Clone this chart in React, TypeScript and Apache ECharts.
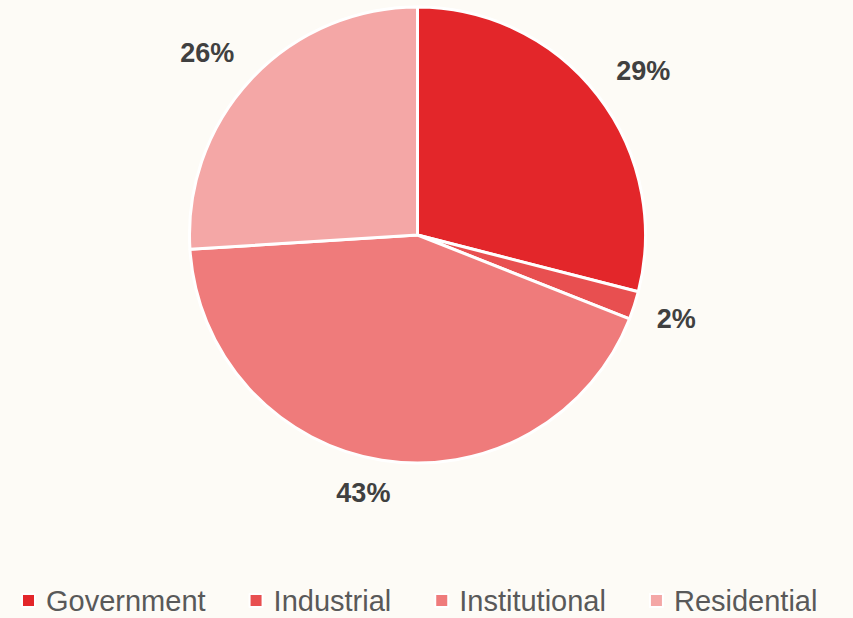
import React, { useEffect, useRef } from "react";
import * as echarts from "echarts";

const categories = ["Government", "Industrial", "Institutional", "Residential"];
const values = [29, 2, 43, 26];
const colors = ["#e3262a", "#e84f50", "#ef7b7b", "#f4a7a6"];
const legendTextWidths = [162, 121, 154, 140];

const CX = 417.5;
const CY = 235;
const R = 228;
const LABEL_GAP = 23.5;

const clamp = (v: number) => Math.max(-1, Math.min(1, v));

export default function App() {
  const ref = useRef<HTMLDivElement>(null);
  useEffect(() => {
    document.body.style.margin = "0";
    const chart = echarts.init(ref.current!, null, { renderer: "svg" });
    const data = categories.map((name, i) => ({ name, value: values[i] }));
    chart.setOption({
      animation: false,
      backgroundColor: "#fdfbf6",
      color: colors,
      legend: {
        bottom: -2,
        left: 16,
        itemWidth: 13,
        itemHeight: 13,
        itemGap: 43,
        icon: "rect",
        data: categories.map((name, i) => ({
          name,
          textStyle: { width: legendTextWidths[i] },
        })),
        textStyle: {
          fontFamily: "Liberation Sans",
          fontSize: 29,
          color: "#595959",
          padding: [0, 0, 0, 6],
        },
      },
      series: [
        {
          type: "pie",
          center: [CX, CY],
          radius: [0, R],
          startAngle: 90,
          clockwise: true,
          silent: true,
          percentPrecision: 0,
          itemStyle: { borderColor: "#ffffff", borderWidth: 3 },
          label: { show: false },
          labelLine: { show: false },
          data,
        },
        {
          type: "pie",
          center: [CX, CY],
          radius: [252, 298],
          startAngle: 90,
          clockwise: true,
          silent: true,
          percentPrecision: 0,
          itemStyle: { color: "rgba(0,0,0,0)", borderWidth: 0 },
          emphasis: { disabled: true },
          label: {
            show: true,
            position: "inside",
            formatter: "{d}%",
            fontFamily: "Liberation Sans",
            fontWeight: "bold",
            fontSize: 27,
            color: "#404040",
          },
          labelLine: { show: false },
          labelLayout: (p: any) => {
            const lr = p.labelRect;
            const lx = lr.x + lr.width / 2;
            const ly = lr.y + lr.height / 2;
            const dx = lx - CX;
            const dy = ly - CY;
            const d = Math.hypot(dx, dy) || 1;
            const ux = dx / d;
            const uy = dy / d;
            const px = CX + ux * (R + LABEL_GAP);
            const py = CY + uy * (R + LABEL_GAP);
            return {
              x: px + (lr.width / 2) * clamp(ux * 3.5),
              y: py + 10 * clamp(uy * 2),
              align: "center",
              verticalAlign: "middle",
            };
          },
          data,
        },
      ],
    });
    return () => chart.dispose();
  }, []);
  return <div ref={ref} style={{ width: 853, height: 618 }} />;
}
